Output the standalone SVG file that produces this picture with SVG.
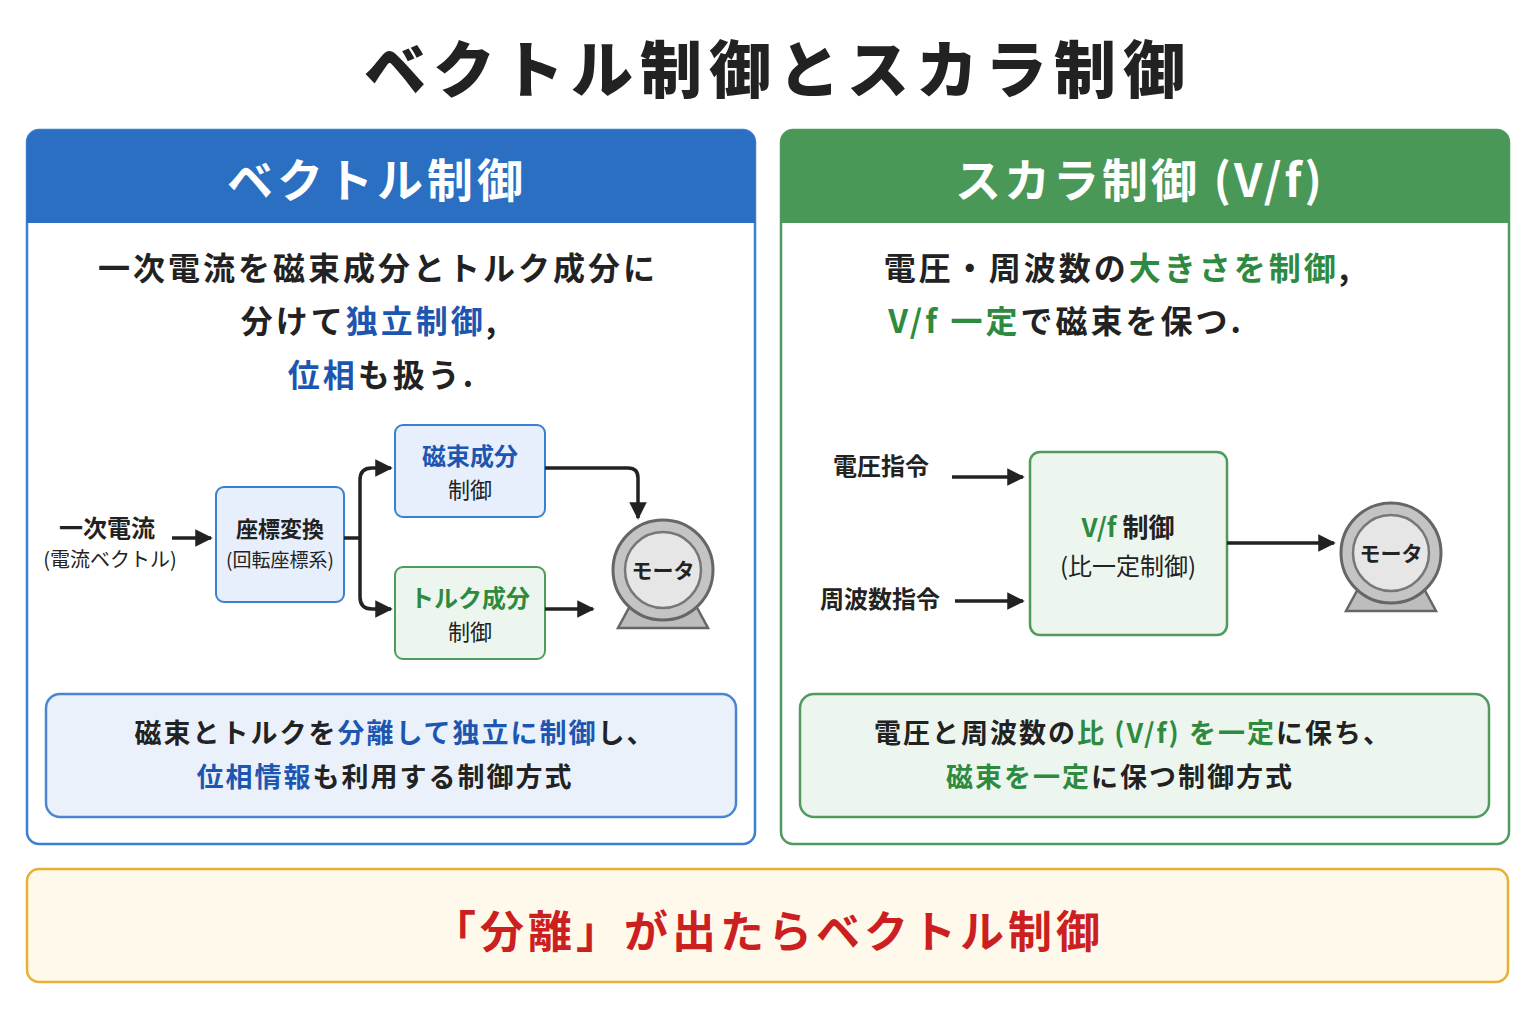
<svg xmlns="http://www.w3.org/2000/svg" width="1536" height="1024" viewBox="0 0 1536 1024">
<defs>
<style>
text{font-family:"Noto Sans CJK JP","Noto Sans",sans-serif;fill:#222;}
.b{fill:#1d56b0}.g{fill:#2e8a3e}
.l32{letter-spacing:3px}.l27{letter-spacing:2px}
.ln{stroke:#222;stroke-width:3.5;fill:none}
</style>
<marker id="ar" viewBox="0 0 10 10" refX="9" refY="5" markerWidth="5" markerHeight="5" orient="auto"><path d="M0,0L10,5L0,10z" fill="#222"/></marker>
<g id="motor">
<path d="M-32,34 L-45,58 L45,58 L32,34 Z" fill="#bdbdbd" stroke="#666" stroke-width="2.5"/>
<circle r="50" fill="#c4c4c4" stroke="#666" stroke-width="3"/>
<circle r="38" fill="#e6e6e6" stroke="#777" stroke-width="2.5"/>
<text y="8" text-anchor="middle" font-size="21" font-weight="700">モータ</text>
</g>
</defs>
<rect width="1536" height="1024" fill="#fff"/>
<text x="778" y="93" text-anchor="middle" font-size="62" font-weight="900" fill="#222" style="letter-spacing:7px">ベクトル制御とスカラ制御</text>

<g id="left-panel">
<rect x="27" y="130" width="728" height="714" rx="12" fill="#fff" stroke="#3b7fd0" stroke-width="2.5"/>
<path d="M27,223 V142 a12,12 0 0 1 12,-12 H743 a12,12 0 0 1 12,12 V223 Z" fill="#2a6fc2"/>
<text x="377" y="197" text-anchor="middle" font-size="46" font-weight="700" style="fill:#fff;letter-spacing:4px">ベクトル制御</text>
<text x="378" y="280" text-anchor="middle" font-size="32" font-weight="700" class="l32">一次電流を磁束成分とトルク成分に</text>
<text x="370" y="333" text-anchor="middle" font-size="32" font-weight="700" class="l32">分けて<tspan class="b">独立制御</tspan>,</text>
<text x="382" y="387" text-anchor="middle" font-size="32" font-weight="700" class="l32"><tspan class="b">位相</tspan>も扱う.</text>
<rect x="46" y="694" width="690" height="123" rx="14" fill="#eaf1fb" stroke="#4a86d0" stroke-width="2.5"/>
<text x="395" y="743" text-anchor="middle" font-size="27" font-weight="700" class="l27">磁束とトルクを<tspan class="b">分離して独立に制御</tspan>し、</text>
<text x="385" y="787" text-anchor="middle" font-size="27" font-weight="700" class="l27"><tspan class="b">位相情報</tspan>も利用する制御方式</text>
</g>

<g id="right-panel">
<rect x="781" y="130" width="728" height="714" rx="12" fill="#fff" stroke="#4f9a5c" stroke-width="2.5"/>
<path d="M781,223 V142 a12,12 0 0 1 12,-12 H1497 a12,12 0 0 1 12,12 V223 Z" fill="#4a9858"/>
<text x="1140" y="197" text-anchor="middle" font-size="46" font-weight="700" style="fill:#fff;letter-spacing:3px">スカラ制御 (V/f)</text>
<text x="1118" y="280" text-anchor="middle" font-size="32" font-weight="700" class="l32">電圧・周波数の<tspan class="g">大きさを制御</tspan>,</text>
<text x="1066" y="333" text-anchor="middle" font-size="32" font-weight="700" class="l32"><tspan class="g">V/f 一定</tspan>で磁束を保つ.</text>
<rect x="800" y="694" width="689" height="123" rx="14" fill="#edf6ee" stroke="#4f9a5c" stroke-width="2.5"/>
<text x="1133" y="743" text-anchor="middle" font-size="27" font-weight="700" class="l27">電圧と周波数の<tspan class="g">比 (V/f) を一定</tspan>に保ち、</text>
<text x="1120" y="787" text-anchor="middle" font-size="27" font-weight="700" class="l27"><tspan class="g">磁束を一定</tspan>に保つ制御方式</text>
</g>

<g id="bottom">
<rect x="27" y="869" width="1481" height="113" rx="12" fill="#fff9ec" stroke="#e8b030" stroke-width="2.5"/>
<text x="768" y="948" text-anchor="middle" font-size="44" font-weight="700" style="fill:#cc1f1f;letter-spacing:4px">「分離」が出たらベクトル制御</text>
</g>

<g id="n-input"><text x="107" y="537" text-anchor="middle" font-size="24" font-weight="700">一次電流</text><text x="110" y="567" text-anchor="middle" font-size="20">(電流ベクトル)</text></g>
<g id="n-coord"><rect x="216" y="487" width="128" height="115" rx="8" fill="#e6effb" stroke="#3b7fd0" stroke-width="2"/><text x="280" y="537" text-anchor="middle" font-size="22" font-weight="700">座標変換</text><text x="280" y="567" text-anchor="middle" font-size="19">(回転座標系)</text></g>
<g id="n-flux"><rect x="395" y="425" width="150" height="92" rx="8" fill="#e6effb" stroke="#3b7fd0" stroke-width="2"/><text x="470" y="465" text-anchor="middle" font-size="24" font-weight="700" class="b">磁束成分</text><text x="470" y="498" text-anchor="middle" font-size="22">制御</text></g>
<g id="n-torque"><rect x="395" y="567" width="150" height="92" rx="8" fill="#edf6ee" stroke="#4f9a5c" stroke-width="2"/><text x="470" y="607" text-anchor="middle" font-size="24" font-weight="700" class="g">トルク成分</text><text x="470" y="640" text-anchor="middle" font-size="22">制御</text></g>
<g id="n-motor1"><use href="#motor" x="663" y="570"/></g>
<g id="n-volt"><text x="881" y="475" text-anchor="middle" font-size="24" font-weight="700">電圧指令</text></g>
<g id="n-freq"><text x="880" y="608" text-anchor="middle" font-size="24" font-weight="700">周波数指令</text></g>
<g id="n-vf"><rect x="1030" y="452" width="197" height="183" rx="10" fill="#edf6ee" stroke="#4f9a5c" stroke-width="2.5"/><text x="1128" y="537" text-anchor="middle" font-size="26" font-weight="700"><tspan class="g">V/f</tspan> 制御</text><text x="1128" y="575" text-anchor="middle" font-size="24">(比一定制御)</text></g>
<g id="n-motor2"><use href="#motor" x="1391" y="553"/></g>

<g id="connectors">
<path class="ln" marker-end="url(#ar)" d="M172,538 H211"/>
<path class="ln" d="M344,538 H360"/>
<path class="ln" marker-end="url(#ar)" d="M360,538 V480 q0,-12 12,-12 H391"/>
<path class="ln" marker-end="url(#ar)" d="M360,538 V597 q0,12 12,12 H391"/>
<path class="ln" marker-end="url(#ar)" d="M545,468 H628 q10,0 10,10 V518"/>
<path class="ln" marker-end="url(#ar)" d="M545,609 H593"/>
<path class="ln" marker-end="url(#ar)" d="M952,477 H1023"/>
<path class="ln" marker-end="url(#ar)" d="M955,601 H1023"/>
<path class="ln" marker-end="url(#ar)" d="M1227,543 H1334"/>
</g>
</svg>
